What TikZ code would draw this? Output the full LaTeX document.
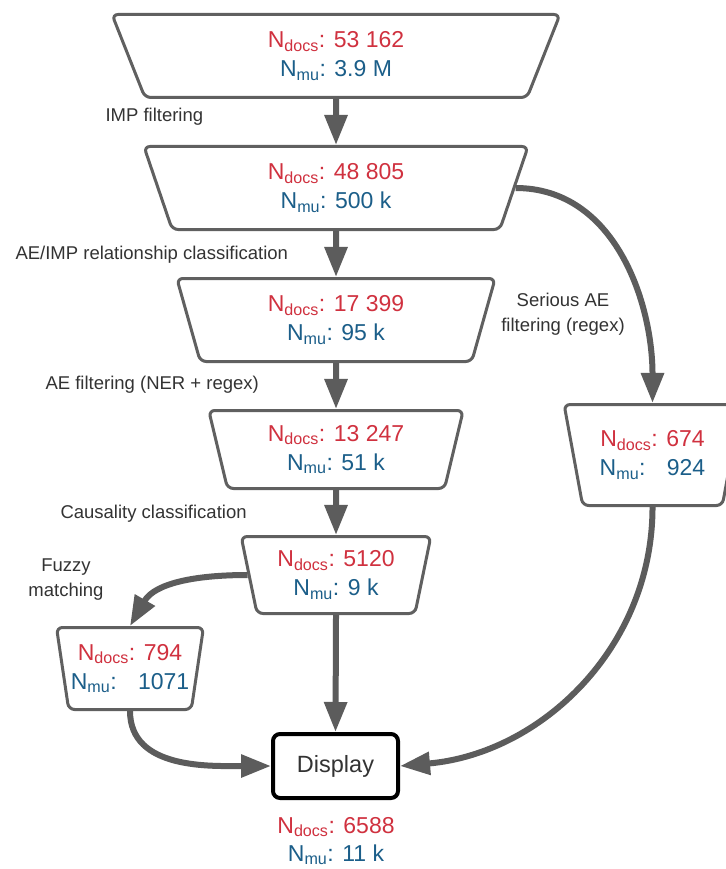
\documentclass[tikz,border=0pt]{standalone}
\usepackage{fontspec}
\setmainfont{Liberation Sans}
\usetikzlibrary{arrows.meta,shapes.geometric}
\definecolor{FlowGray}{HTML}{5C5C5C}
\definecolor{StageEdge}{HTML}{606060}
\definecolor{DocsRed}{HTML}{D0313F}
\definecolor{MuBlue}{HTML}{1B5E89}
\definecolor{NoteInk}{HTML}{333333}
\newcommand{\counts}[2]{\textcolor{DocsRed}{N\textsubscript{docs}: #1}\\\textcolor{MuBlue}{N\textsubscript{mu}: #2}}
\tikzset{
  every node/.style={text=NoteInk},
  stage/.style={trapezium, shape border rotate=180, trapezium angle=76.5, trapezium stretches=true,
    draw=StageEdge, line width=3pt, rounded corners=6pt, fill=white, inner sep=0pt,
    align=center, font=\fontsize{23}{29}\selectfont},
  sink/.style={draw=black, line width=4pt, rounded corners=7pt, fill=white,
    minimum width=125pt, minimum height=64pt, font=\fontsize{23.5}{28}\selectfont},
  note/.style={font=\fontsize{18.5}{25}\selectfont, text=NoteInk},
  flow/.style={-{Triangle[length=30pt,width=22pt]}, draw=FlowGray, line width=6pt},
}

\begin{document}
\begin{tikzpicture}[x=1pt,y=-1pt]
  \useasboundingbox (0,0) rectangle (725,869);
  \fill[white] (0,0) rectangle (725,869);
  % Filtering stages
  \node[stage, minimum width=449pt, minimum height=83pt] (imp) at (336,56) {\counts{53 162}{3.9 M}};
  \node[stage, minimum width=385pt, minimum height=83pt] (rel) at (336,188) {\counts{48 805}{500 k}};
  \node[stage, minimum width=319pt, minimum height=83pt] (ner) at (336,320) {\counts{17 399}{95 k}};
  \node[stage, minimum width=255pt, minimum height=78pt] (caus) at (336,449.5) {\counts{13 247}{51 k}};
  \node[stage, minimum width=190pt, minimum height=77pt] (final) at (336,575) {\counts{5120}{9 k}};
  \node[stage, minimum width=147pt, minimum height=82pt] (fuzzy) at (130,668.5) {\counts{794}{\ \ 1071}};
  \node[stage, trapezium angle=74, minimum width=177pt, minimum height=101pt] (serious) at (652.5,455) {\counts{674}{\ \ 924}};
  % Output
  \node[sink] (disp) at (335.5,766) {Display};
  \node[align=center, font=\fontsize{23}{28}\selectfont] (dispcounts) at (336,841) {\counts{6588}{11 k}};
  % Step labels
  \node[note, anchor=west] (lblimp) at (102,117) {IMP filtering};
  \node[note, anchor=west] (lblrel) at (12,255) {AE/IMP relationship classification};
  \node[note, anchor=west] (lblner) at (42,385) {AE filtering (NER + regex)};
  \node[note, anchor=west] (lblcaus) at (57,514) {Causality classification};
  \node[note, align=center] (lblfuzzy) at (66,580) {Fuzzy\\matching};
  \node[note, align=center] (lblserious) at (563,314) {Serious AE\\filtering (regex)};
  % Main chain
  \draw[flow] (imp.south) -- (rel.north);
  \draw[flow] (rel.south) -- (ner.north);
  \draw[flow] (ner.south) -- (caus.north);
  \draw[flow] (caus.south) -- (final.north);
  \draw[flow] (final.south) -- (disp.north);
  % Side branches
  \draw[flow] (rel.east) to[out=0,in=90] (serious.north);
  \draw[flow] (final.west) to[out=180,in=60] (fuzzy.north);
  \draw[flow] (fuzzy.south) to[out=-90,in=180] (disp.west);
  \draw[flow] (serious.south) to[out=-90,in=5] (disp.east);
\end{tikzpicture}
\end{document}
